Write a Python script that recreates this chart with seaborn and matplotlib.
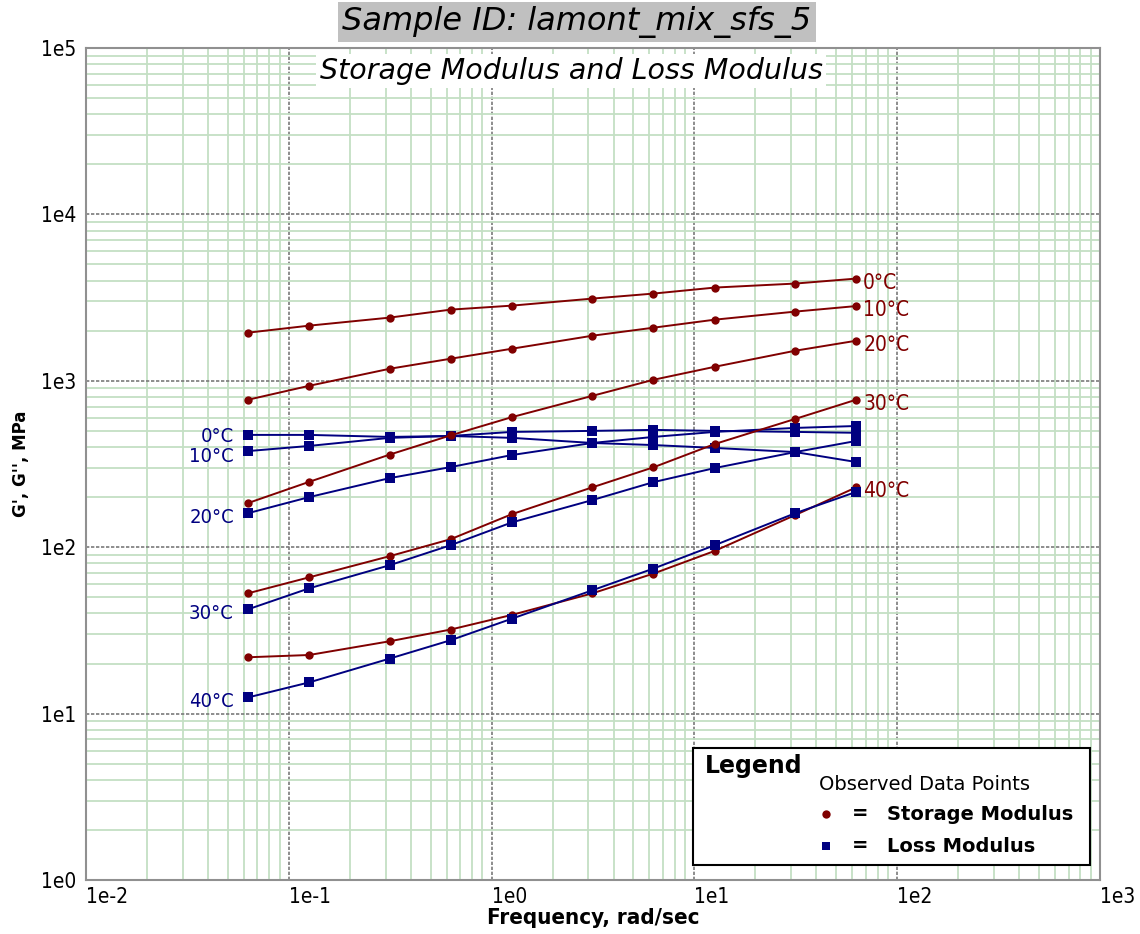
import numpy as np
import pandas as pd
import matplotlib
matplotlib.use("Agg")
import matplotlib.pyplot as plt
import seaborn as sns
from matplotlib import font_manager
from matplotlib.patches import Rectangle
from matplotlib.lines import Line2D

# ---------------- data ----------------
freq = [0.0628, 0.126, 0.314, 0.628, 1.26, 3.14, 6.28, 12.6, 31.4, 62.8]
temps = ["0°C", "10°C", "20°C", "30°C", "40°C"]

storage_0 = [1946, 2145, 2397, 2677, 2830, 3119, 3343, 3633, 3840, 4114]
storage_10 = [769, 933, 1181, 1357, 1559, 1866, 2085, 2330, 2605, 2813]
storage_20 = [184, 247, 360, 470, 605, 812, 1014, 1214, 1516, 1741]
storage_30 = [52.8, 65.9, 88.3, 111.7, 158, 229, 302, 417, 590, 770]
storage_40 = [21.8, 22.5, 27.2, 32.0, 39.2, 52.8, 69.4, 95.0, 156, 229]

loss_0 = [473, 473, 460, 466, 454, 423, 411, 395, 373, 325]
loss_10 = [378, 406, 454, 466, 493, 500, 507, 500, 493, 487]
loss_20 = [160, 200, 260, 303, 358, 423, 460, 493, 521, 535]
loss_30 = [42.3, 56.6, 77.9, 102.8, 141, 192, 246, 299, 373, 435]
loss_40 = [12.5, 15.4, 21.4, 27.6, 37.2, 55.1, 74.4, 102.8, 160, 215]

storage = [storage_0, storage_10, storage_20, storage_30, storage_40]
loss = [loss_0, loss_10, loss_20, loss_30, loss_40]

x_ticks = [1e-2, 1e-1, 1e0, 1e1, 1e2, 1e3]
x_ticklabels = ["1e-2", "1e-1", "1e0", "1e1", "1e2", "1e3"]
y_ticks = [1e0, 1e1, 1e2, 1e3, 1e4, 1e5]
y_ticklabels = ["1e0", "1e1", "1e2", "1e3", "1e4", "1e5"]

title_text = "Sample ID: lamont_mix_sfs_5"
subtitle_text = "Storage Modulus and Loss Modulus"
x_label = "Frequency, rad/sec"
y_label = "G', G'', MPa"

# ---------------- style ----------------
sns.set_style("white")
plt.rcParams["font.family"] = ["DejaVu Sans"]
plt.rcParams["text.color"] = "black"
plt.rcParams["xtick.color"] = "black"
plt.rcParams["ytick.color"] = "black"
plt.rcParams["axes.labelcolor"] = "black"
COND = "condensed"

RED = "#800000"
BLUE = "#000080"
MINOR = "#c4dfc4"
MAJOR = "#7a7a7a"

fig = plt.figure(figsize=(11.4, 9.34), dpi=100)
ax = fig.add_axes([86 / 1140, 1 - 880 / 934, 1014 / 1140, 832 / 934])
ax.set_xscale("log")
ax.set_yscale("log")
ax.set_xlim(1e-2, 1e3)
ax.set_ylim(1e0, 1e5)

# grid
ax.xaxis.set_minor_locator(matplotlib.ticker.LogLocator(base=10, subs=np.arange(2, 10)))
ax.yaxis.set_minor_locator(matplotlib.ticker.LogLocator(base=10, subs=np.arange(2, 10)))
ax.xaxis.set_minor_formatter(matplotlib.ticker.NullFormatter())
ax.yaxis.set_minor_formatter(matplotlib.ticker.NullFormatter())
ax.grid(True, which="minor", color=MINOR, lw=1.3, zorder=0)
ax.grid(True, which="major", color=MAJOR, lw=1.2, ls=(0, (2, 1)), zorder=0)
ax.set_axisbelow(True)
for s in ax.spines.values():
    s.set_color("#909090")
    s.set_linewidth(1.5)

# data lines
loss_label_dy = [-1, -4, -3, -3, -3]
for i, t in enumerate(temps):
    sns.lineplot(x=freq, y=storage[i], ax=ax, color=RED, marker="o", markersize=6,
                 markeredgewidth=0, lw=1.4, zorder=3)
    sns.lineplot(x=freq, y=loss[i], ax=ax, color=BLUE, marker="s", markersize=7,
                 markeredgewidth=0, lw=1.4, zorder=3)
    ax.annotate(t, (freq[-1], storage[i][-1]), xytext=(5, -3), textcoords="offset points",
                ha="left", va="center", color=RED, fontsize=15, fontstretch=COND, zorder=5)
    ax.annotate(t, (freq[0], loss[i][0]), xytext=(-10, loss_label_dy[i]),
                textcoords="offset points", ha="right", va="center", color=BLUE,
                fontsize=14.5, fontstretch=COND, zorder=5)

# ticks
ax.set_xticks(x_ticks)
ax.set_xticklabels(x_ticklabels, ha="left", fontstretch=COND, fontsize=15)
ax.set_yticks(y_ticks)
ax.set_yticklabels(y_ticklabels, fontstretch=COND, fontsize=15)
ax.tick_params(axis="both", which="both", length=0, pad=5)
ax.tick_params(axis="y", pad=7)
ax.set_xlabel(x_label, fontsize=16, fontweight="bold", fontstretch=COND)
ax.xaxis.set_label_coords(0.5, (880 - 908) / 832)
ax.set_ylabel(y_label, fontsize=12, fontweight="bold")
ax.yaxis.set_label_coords((30 - 86) / 1014, 0.5)

# titles
fig.text(577 / 1140, 1 - 22 / 934, title_text, ha="center", va="center", fontsize=23,
         style="italic", color="black",
         bbox=dict(boxstyle="square,pad=0.14", facecolor="#c0c0c0", edgecolor="none"))
fig.text(571 / 1140, 1 - 71 / 934, subtitle_text, ha="center", va="center", fontsize=20.5,
         style="italic", color="black", zorder=10,
         bbox=dict(boxstyle="square,pad=0.12", facecolor="white", edgecolor="none"))

# legend box
tr = ax.transAxes
def fx(px):
    return (px - 86) / 1014
def fy(py):
    return (880 - py) / 832

ax.add_patch(Rectangle((fx(693), fy(865)), fx(1090) - fx(693), fy(748) - fy(865),
                       transform=tr, facecolor="white", edgecolor="black", lw=1.5, zorder=8))
ax.text(fx(705), fy(766), "Legend", transform=tr, fontsize=17, fontweight="bold",
        ha="left", va="center", zorder=9)
ax.text(fx(819), fy(784), "Observed Data Points", transform=tr, fontsize=14,
        ha="left", va="center", zorder=9)
ax.add_line(Line2D([fx(826)], [fy(814)], transform=tr, marker="o", color=RED,
                   markersize=6, markeredgewidth=0, zorder=9))
ax.add_line(Line2D([fx(826)], [fy(846)], transform=tr, marker="s", color=BLUE,
                   markersize=6, markeredgewidth=0, zorder=9))
for yy, lab in [(814, "Storage Modulus"), (846, "Loss Modulus")]:
    ax.text(fx(852), fy(yy), "=", transform=tr, fontsize=14, fontweight="bold",
            ha="left", va="center", zorder=9)
    ax.text(fx(887), fy(yy), lab, transform=tr, fontsize=14, fontweight="bold",
            ha="left", va="center", zorder=9)

fig.savefig("out.png", dpi=100, facecolor="white")
